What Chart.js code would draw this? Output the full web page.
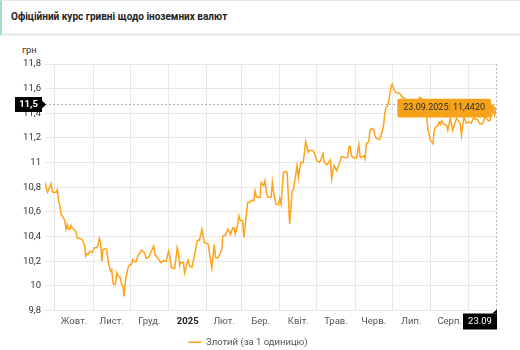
<!DOCTYPE html>
<html lang="uk">
<head>
<meta charset="utf-8">
<title>Офіційний курс гривні щодо іноземних валют</title>
<script src="https://cdn.jsdelivr.net/npm/chart.js@4.4.1/dist/chart.umd.min.js"></script>
<style>
  html, body { margin: 0; padding: 0; background: #fff; }
  body { width: 520px; height: 350px; position: relative; overflow: hidden; font-family: Roboto, "Liberation Sans", Arial, sans-serif; }
  .panel-head {
    position: absolute; left: 0; top: 0; width: 520px; height: 36px; box-sizing: border-box;
    border-top: 1px solid #e6e6e6; border-left: 2px solid #a3dcc2; border-bottom: 3px solid #ececec;
    padding: 10px 0 0 9px; font-size: 10px; font-weight: bold; color: #222;
  }
  .unit { position: absolute; left: 22px; top: 44px; font-size: 9.5px; color: #333; }
  #chartBox { position: absolute; left: 0; top: 36px; width: 520px; height: 321px; }
</style>
</head>
<body>
<div class="panel-head">Офіційний курс гривні щодо іноземних валют</div>
<div class="unit">грн</div>
<div id="chartBox"><canvas id="chartRate"></canvas></div>

<script>
// Злотий: day offset from 23.09.2024 and the official rate on that day
const days = [
  0, 2, 5, 6, 9, 10, 11, 12, 13, 14, 16, 17, 18, 19, 20, 21, 22, 24, 25, 26,
  28, 30, 32, 33, 34, 35, 36, 38, 39, 40, 42, 43, 44, 45, 46, 47, 49, 50, 51, 53,
  54, 55, 56, 57, 58, 59, 61, 62, 63, 64, 65, 67, 68, 70, 71, 73, 74, 75, 77, 78,
  80, 81, 82, 84, 85, 86, 88, 89, 90, 92, 94, 96, 97, 98, 100, 101, 102, 103, 105, 107,
  108, 109, 110, 112, 113, 115, 116, 117, 119, 120, 121, 123, 124, 125, 127, 129, 132, 135, 137, 138,
  140, 142, 143, 144, 146, 148, 149, 150, 152, 153, 154, 156, 157, 158, 160, 161, 164, 166, 167, 169,
  170, 171, 173, 174, 175, 177, 178, 179, 180, 183, 184, 185, 187, 189, 190, 191, 193, 195, 196, 198,
  200, 201, 204, 205, 207, 209, 211, 213, 214, 217, 218, 220, 222, 223, 225, 226, 227, 228, 231, 232,
  233, 234, 236, 238, 240, 242, 245, 246, 247, 248, 250, 252, 253, 254, 255, 256, 258, 259, 260, 262,
  263, 264, 266, 267, 268, 270, 271, 272, 274, 275, 276, 277, 278, 279, 280, 281, 282, 284, 287, 289,
  291, 293, 295, 297, 299, 301, 303, 305, 307, 309, 310, 312, 314, 315, 316, 318, 319, 320, 321, 323,
  325, 326, 328, 330, 333, 336, 337, 339, 341, 343, 345, 347, 348, 350, 352, 354, 355, 356, 359, 360,
  362, 363, 364, 365
];
const rates = [
  10.84, 10.76, 10.83, 10.76, 10.76, 10.78, 10.69, 10.65, 10.58, 10.57, 10.53, 10.46, 10.50, 10.46, 10.46, 10.49, 10.47, 10.45, 10.445, 10.39,
  10.385, 10.377, 10.33, 10.24, 10.26, 10.255, 10.28, 10.27, 10.29, 10.31, 10.31, 10.336, 10.385, 10.35, 10.20, 10.295, 10.303, 10.295, 10.20, 10.118,
  10.132, 10.023, 10.01, 10.015, 10.105, 10.083, 10.064, 10.01, 9.999, 9.914, 10.037, 10.14, 10.167, 10.173, 10.214, 10.194, 10.20, 10.241, 10.268, 10.29,
  10.276, 10.255, 10.222, 10.233, 10.255, 10.282, 10.322, 10.255, 10.241, 10.214, 10.186, 10.206, 10.20, 10.20, 10.282, 10.241, 10.151, 10.145, 10.14, 10.309,
  10.268, 10.165, 10.192, 10.186, 10.105, 10.186, 10.208, 10.159, 10.151, 10.20, 10.241, 10.363, 10.371, 10.368, 10.459, 10.35, 10.341, 10.146, 10.336, 10.227,
  10.227, 10.268, 10.295, 10.404, 10.412, 10.459, 10.445, 10.418, 10.472, 10.467, 10.423, 10.50, 10.567, 10.532, 10.527, 10.39, 10.676, 10.676, 10.696, 10.69,
  10.771, 10.722, 10.717, 10.717, 10.839, 10.812, 10.853, 10.771, 10.722, 10.717, 10.839, 10.758, 10.663, 10.657, 10.709, 10.663, 10.921, 10.929, 10.92, 10.50,
  10.771, 10.777, 10.976, 10.88, 11.002, 11.0, 11.174, 11.084, 11.098, 11.098, 11.076, 11.016, 11.002, 11.016, 11.071, 11.002, 10.994, 10.981, 11.022, 10.867,
  10.935, 10.976, 10.935, 10.984, 11.049, 11.043, 11.04, 11.131, 11.131, 11.057, 11.038, 11.038, 11.084, 11.147, 11.049, 11.04, 11.057, 11.03, 11.15, 11.17,
  11.261, 11.275, 11.27, 11.22, 11.20, 11.188, 11.19, 11.22, 11.302, 11.40, 11.451, 11.457, 11.492, 11.547, 11.615, 11.637, 11.60, 11.569, 11.561, 11.533,
  11.52, 11.47, 11.50, 11.44, 11.49, 11.46, 11.53, 11.52, 11.45, 11.357, 11.261, 11.18, 11.153, 11.26, 11.288, 11.30, 11.329, 11.31, 11.34, 11.31,
  11.302, 11.261, 11.36, 11.261, 11.36, 11.32, 11.22, 11.37, 11.32, 11.33, 11.32, 11.37, 11.35, 11.35, 11.316, 11.316, 11.34, 11.37, 11.34, 11.34,
  11.398, 11.424, 11.384, 11.442
];

// month boundaries (day offsets) and the label shown in the middle of each month
const monthStarts = [8, 39, 69, 100, 131, 159, 190, 220, 251, 281, 312, 343];
const monthLabels = ['Жовт.', 'Лист.', 'Груд.', '2025', 'Лют.', 'Бер.', 'Квіт.', 'Трав.', 'Черв.', 'Лип.', 'Серп.'];
const yTicks = [9.8, 10, 10.2, 10.4, 10.6, 10.8, 11, 11.2, 11.4, 11.6, 11.8];

const lastDate = '23.09.2025';
const lastDateShort = '23.09';
const cursorRate = 11.473;

const LINE_COLOR = '#ffa31a';
const GRID_COLOR = '#e8e8e8';
const FONT = 'Roboto, "Liberation Sans", Arial, sans-serif';
const FONT_SIZE = 9.5;

const fmt = v => String(v).replace('.', ',');

// mid-month positions carry the labels, month starts carry the grid lines
const midTicks = monthLabels.map((_, i) => (monthStarts[i] + monthStarts[i + 1]) / 2);
const labelAt = {};
midTicks.forEach((d, i) => { labelAt[d] = monthLabels[i]; });
const startSet = new Set(monthStarts);
const isYear = ctx => !!(ctx && ctx.tick && labelAt[ctx.tick.value] === '2025');

// crosshair with the black value boxes on both axes
const crosshair = {
  id: 'crosshair',
  afterDatasetsDraw(chart) {
    const { ctx, chartArea: a, scales: { x, y } } = chart;
    const cx = x.getPixelForValue(days[days.length - 1]);
    const cy = Math.round(y.getPixelForValue(cursorRate)) + 0.5;
    ctx.save();
    ctx.strokeStyle = '#b5b5b5';
    ctx.lineWidth = 1;
    ctx.setLineDash([2, 2]);
    ctx.beginPath();
    ctx.moveTo(a.left, cy); ctx.lineTo(cx, cy);
    ctx.moveTo(Math.round(cx) + 0.5, a.top); ctx.lineTo(Math.round(cx) + 0.5, a.bottom + 3);
    ctx.stroke();
    ctx.setLineDash([]);

    // y value box
    ctx.fillStyle = '#000';
    ctx.fillRect(15, cy - 7.5, 27, 15);
    ctx.beginPath();
    ctx.moveTo(42, cy - 4); ctx.lineTo(46, cy); ctx.lineTo(42, cy + 4);
    ctx.fill();
    ctx.fillStyle = '#fff';
    ctx.font = 'bold ' + FONT_SIZE + 'px ' + FONT;
    ctx.textAlign = 'center';
    ctx.textBaseline = 'middle';
    ctx.fillText(fmt(cursorRate.toFixed(1)), 28.5, cy + 0.5);

    // x value box
    const bx = Math.round(cx) + 1;
    ctx.fillStyle = '#000';
    ctx.fillRect(bx - 34, a.bottom + 3, 34, 16);
    ctx.beginPath();
    ctx.moveTo(bx - 5, a.bottom + 3); ctx.lineTo(bx, a.bottom - 1); ctx.lineTo(bx, a.bottom + 3);
    ctx.fill();
    ctx.fillStyle = '#fff';
    ctx.font = FONT_SIZE + 'px ' + FONT;
    ctx.fillText(lastDateShort, bx - 17, a.bottom + 11.5);
    ctx.restore();
  }
};

const chart = new Chart(document.getElementById('chartRate'), {
  type: 'line',
  data: {
    datasets: [{
      label: 'Злотий (за 1 одиницю)',
      data: days.map((d, i) => ({ x: d, y: rates[i] })),
      borderColor: LINE_COLOR,
      backgroundColor: LINE_COLOR,
      borderWidth: 1.5,
      pointRadius: 0,
      pointHoverRadius: 0,
      tension: 0
    }]
  },
  options: {
    responsive: true,
    maintainAspectRatio: false,
    animation: false,
    layout: { padding: { top: 28, right: 24, left: 0, bottom: 0 } },
    scales: {
      x: {
        type: 'linear',
        min: 0,
        max: 365,
        border: { display: false },
        afterBuildTicks: scale => {
          scale.ticks = [...monthStarts, ...midTicks].sort((p, q) => p - q).map(v => ({ value: v }));
        },
        afterFit: scale => { scale.height = 22; },
        grid: {
          drawTicks: false,
          color: ctx => (ctx && ctx.tick && startSet.has(ctx.tick.value)) ? GRID_COLOR : 'rgba(0,0,0,0)'
        },
        ticks: {
          autoSkip: false,
          maxRotation: 0,
          padding: 5,
          color: ctx => isYear(ctx) ? '#222' : '#555',
          font: ctx => ({ family: FONT, size: FONT_SIZE, weight: isYear(ctx) ? 'bold' : 'normal' }),
          callback: v => labelAt[v] || ''
        }
      },
      y: {
        min: 9.8,
        max: 11.8,
        border: { display: false },
        afterBuildTicks: scale => { scale.ticks = yTicks.map(v => ({ value: v })); },
        afterFit: scale => { scale.width = 45; },
        grid: { drawTicks: false, color: GRID_COLOR },
        ticks: {
          padding: 4,
          color: '#333',
          font: { family: FONT, size: FONT_SIZE },
          callback: v => fmt(+v.toFixed(1))
        }
      }
    },
    plugins: {
      legend: {
        position: 'bottom',
        labels: {
          usePointStyle: true,
          pointStyle: 'line',
          pointStyleWidth: 13,
          boxHeight: 11,
          padding: 5,
          color: '#555',
          font: { family: FONT, size: FONT_SIZE }
        }
      },
      tooltip: {
        enabled: true,
        backgroundColor: '#f7a21b',
        bodyColor: '#2a2a2a',
        displayColors: false,
        xAlign: 'right',
        yAlign: 'center',
        caretSize: 5,
        caretPadding: 0,
        cornerRadius: 2,
        padding: { left: 6, right: 6, top: 4, bottom: 4 },
        bodyFont: { family: FONT, size: 9 },
        callbacks: {
          title: () => '',
          label: ctx => lastDate + ': ' + fmt(ctx.parsed.y.toFixed(4))
        }
      }
    }
  },
  plugins: [crosshair]
});

chart.tooltip.setActiveElements([{ datasetIndex: 0, index: rates.length - 1 }], { x: 0, y: 0 });
chart.update();
</script>
</body>
</html>
